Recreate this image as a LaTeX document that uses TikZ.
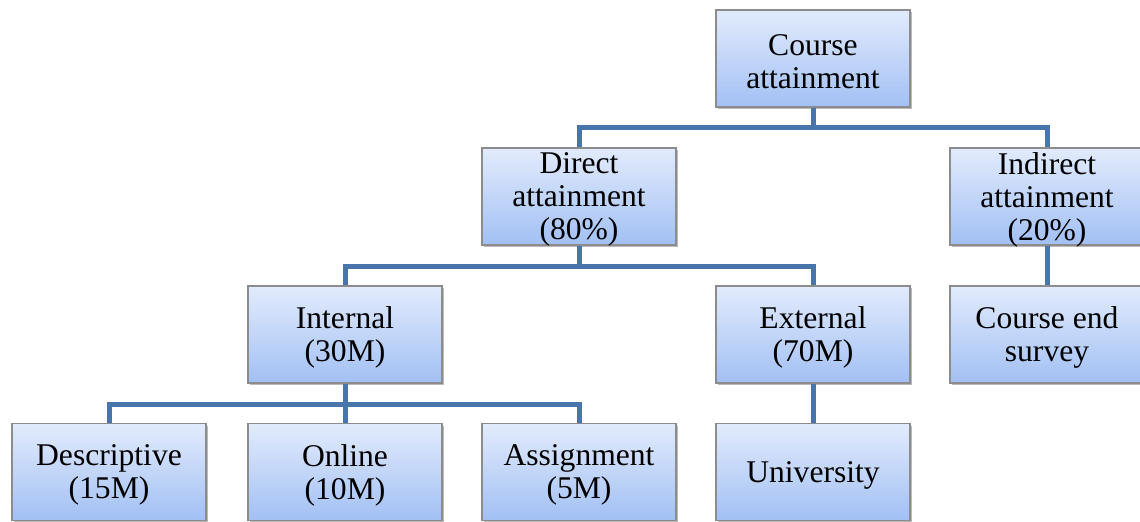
\documentclass[tikz,border=0pt]{standalone}
\usepackage{fontspec}
\setmainfont{Liberation Serif}
\usetikzlibrary{shadows}
\definecolor{topc}{RGB}{226,235,252}
\definecolor{botc}{RGB}{162,192,244}
\definecolor{edgec}{RGB}{140,140,140}
\definecolor{connc}{RGB}{72,118,172}
\tikzset{
  box/.style={draw=edgec, line width=0.6pt, top color=topc, bottom color=botc,
    minimum width=97pt, minimum height=48.5pt, inner sep=0pt,
    drop shadow={shadow xshift=1.2pt, shadow yshift=-1.2pt, fill=black!45, opacity=0.6}},
  txt/.style={align=center, inner sep=0pt, yshift=-1.5pt,
    font=\fontsize{15.8pt}{16.5pt}\selectfont},
  conn/.style={draw=connc, line width=2.5pt, line join=miter}
}
\begin{document}
\begin{tikzpicture}[x=0.5pt,y=-0.5pt]
\useasboundingbox (0,0) rectangle (1140,521);
\node[box, label={[txt]center:{Course\\attainment}}] (ca) at (813,58.5) {};
\node[box, label={[txt]center:{Direct\\attainment\\(80\%)}}] (da) at (579,196.5) {};
\node[box, label={[txt]center:{Indirect\\attainment\\(20\%)}}] (ia) at (1047,196.5) {};
\node[box, label={[txt]center:{Internal\\(30M)}}] (in) at (345,334.5) {};
\node[box, label={[txt]center:{External\\(70M)}}] (ex) at (813,334.5) {};
\node[box, label={[txt]center:{Course end\\survey}}] (cs) at (1047,334.5) {};
\node[box, label={[txt]center:{Descriptive\\(15M)}}] (de) at (109,472) {};
\node[box, label={[txt]center:{Online\\(10M)}}] (on) at (345,472) {};
\node[box, label={[txt]center:{Assignment\\(5M)}}] (as) at (579,472) {};
\node[box, label={[txt]center:{University}}] (un) at (813,472) {};
\draw[conn] (ca.south) -- ++(0,20) -| (da.north);
\draw[conn] (ca.south) -- ++(0,20) -| (ia.north);
\draw[conn] (da.south) -- ++(0,21) -| (in.north);
\draw[conn] (da.south) -- ++(0,21) -| (ex.north);
\draw[conn] (in.south) -- ++(0,21) -| (de.north);
\draw[conn] (in.south) -- ++(0,21) -| (on.north);
\draw[conn] (in.south) -- ++(0,21) -| (as.north);
\draw[conn] (ex.south) -- (un.north);
\draw[conn] (ia.south) -- (cs.north);
\end{tikzpicture}
\end{document}
